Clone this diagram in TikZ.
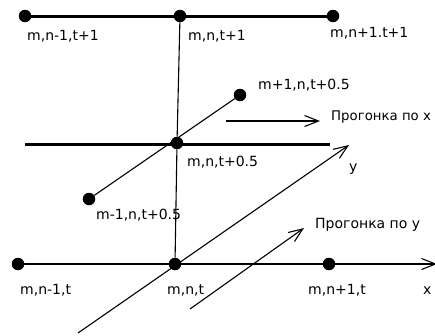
\documentclass[tikz,border=0pt]{standalone}
\usepackage{fontspec}
\setmainfont{DejaVu Sans}
\usetikzlibrary{arrows.meta}
\begin{document}
\begin{tikzpicture}[x=1pt,y=-1pt,
  dot/.style={circle,fill=black,inner sep=0pt,minimum size=12.5pt},
  lbl/.style={anchor=base west,inner sep=0pt,font=\fontsize{14}{16}\selectfont},
  thickln/.style={line width=3pt},
  midln/.style={line width=2pt},
  thinln/.style={line width=1.1pt},
  barb/.style={-{Straight Barb[length=14pt,width=11pt,line width=1.1pt]}}]
\useasboundingbox (0,0) rectangle (435,335);
% dots
\node[dot] (t1) at (25,16) {};
\node[dot] (t2) at (180,16) {};
\node[dot] (t3) at (333,16) {};
\node[dot] (m2) at (177,143) {};
\node[dot] (mp) at (240,95) {};
\node[dot] (mm) at (89,199) {};
\node[dot] (b1) at (18,264) {};
\node[dot] (b2) at (175,264) {};
\node[dot] (b3) at (329,264) {};
% free ends
\coordinate (ml) at (25,144);
\coordinate (mr) at (330,144);
\coordinate (xe) at (437,264);
\coordinate (ys) at (78,333);
\coordinate (ye) at (349,145);
\coordinate (pxs) at (226,121);
\coordinate (pxe) at (320,121);
\coordinate (pys) at (190,309);
\coordinate (pye) at (304,228);
% lines
\draw[thickln] (t1) -- (t2) -- (t3);
\draw[thickln] (ml) -- (mr);
\draw[thinln] (t2) -- (m2) -- (b2);
\draw[thinln] (mm) -- (mp);
\draw[midln] (b1) -- (b2) -- (b3);
\draw[thinln,barb] (b3) -- (xe);
\draw[thinln,barb] (ys) -- (ye);
\draw[thinln,barb] (pxs) -- (pxe);
\draw[thinln,barb] (pys) -- (pye);
% labels
\node[lbl] (l1) at (27,40) {m,n-1,t+1};
\node[lbl] (l2) at (188,40) {m,n,t+1};
\node[lbl] (l3) at (330,37) {m,n+1.t+1};
\node[lbl] (l4) at (258,89) {m+1,n,t+0.5};
\node[lbl,font=\fontsize{13.3}{16}\selectfont] (l5) at (331,120) {Прогонка по x};
\node[lbl] (l6) at (187,166) {m,n,t+0.5};
\node[lbl] (l7) at (349,171) {y};
\node[lbl] (l8) at (96,219) {m-1,n,t+0.5};
\node[lbl] (l9) at (315,228) {Прогонка по y};
\node[lbl] (l10) at (20,294) {m,n-1,t};
\node[lbl] (l11) at (167,294) {m,n,t};
\node[lbl] (l12) at (308,294) {m,n+1,t};
\node[lbl] (l13) at (423,294) {x};
\end{tikzpicture}
\end{document}
